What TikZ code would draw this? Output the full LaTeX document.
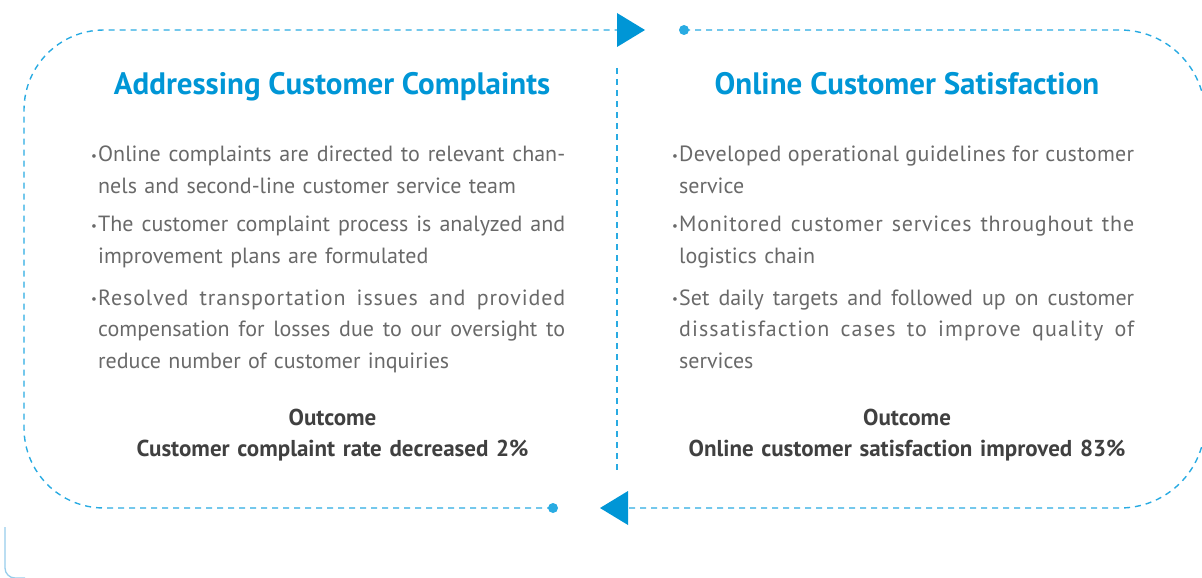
\documentclass[tikz,border=0pt]{standalone}
\usepackage{fontspec}
\setmainfont{PT Sans}
\definecolor{headblue}{RGB}{0,150,214}
\definecolor{loopblue}{RGB}{41,171,226}
\definecolor{bodygray}{RGB}{105,105,105}
\definecolor{outgray}{RGB}{64,64,64}
\definecolor{paleblue}{RGB}{150,205,235}
% justified line of a given width, indented justified line, last (ragged) line
\newcommand{\fullline}[2]{\hbox to #1{\spaceskip=\fontdimen2\font plus 1fil\relax #2}}
\newcommand{\hangline}[2]{\hspace*{7pt}\fullline{\dimexpr#1-7pt\relax}{#2}}
\newcommand{\lastline}[1]{\hspace*{7pt}#1}
% tracked-out text for loosely set lines
\newcommand{\spread}[2]{{\addfontfeature{LetterSpace=#1}#2}}
\newcommand{\bul}{\hbox to 7pt{\raisebox{1.5pt}{\fontsize{13}{13}\selectfont •}\hss}}
\begin{document}
\begin{tikzpicture}[x=1pt,y=-1pt,
  flowline/.style={draw=loopblue,line width=1.4pt,dash pattern=on 6pt off 5pt},
  headtext/.style={anchor=base,inner sep=0pt,text=headblue,font=\fontsize{31}{36}\selectfont\bfseries},
  bullettext/.style={anchor=base west,inner sep=0pt,align=left,text=bodygray,
    font=\fontsize{22}{31.6}\selectfont},
  outcometext/.style={anchor=base,inner sep=0pt,text width=480pt,align=center,text=outgray,
    font=\fontsize{23}{31.7}\selectfont\bfseries},
  tipfill/.style={fill=headblue},
  dotfill/.style={fill=loopblue}]
\useasboundingbox (0,0) rectangle (1202,578);

% loop end points
\coordinate (dotTop) at (684,30);
\coordinate (arrTop) at (617,30);
\coordinate (dotBot) at (553,508);
\coordinate (arrBot) at (628,508);
\coordinate (divTop) at (617,68);
\coordinate (divBot) at (617,472);

% left half of the loop
\draw[flowline,rounded corners=80pt] (dotBot) -- (24,508) -- (24,30) -- (arrTop);
% right half of the loop
\draw[flowline,rounded corners=85pt] (dotTop) -- (1205,30) -- (1205,508) -- (arrBot);
% centre divider
\draw[flowline] (divTop) -- (divBot);

% arrow heads and dots
\fill[tipfill] (arrTop) ++(0,-17) -- ++(28,17) -- ++(-28,17) -- cycle;
\fill[tipfill] (arrBot) ++(0,-17) -- ++(-28,17) -- ++(28,17) -- cycle;
\fill[dotfill] (dotTop) circle (5pt);
\fill[dotfill] (dotBot) circle (5pt);

% corner fragment
\draw[paleblue,line width=1.3pt,rounded corners=10pt] (5,527) -- (5,578) -- (25,578);

% titles
\node[headtext] (titleL) at (332,95) {Addressing Customer Complaints};
\node[headtext] (titleR) at (907,95) {Online Customer Satisfaction};

% left bullets
\node[bullettext,text width=474pt] (l1) at (91,161.7) {%
  \fullline{474pt}{\bul Online complaints are directed to relevant chan-}\\
  \lastline{nels and second-line customer service team}};
\node[bullettext,text width=474pt] (l2) at (91,231.7) {%
  \fullline{474pt}{\bul The customer complaint process is analyzed and}\\
  \lastline{improvement plans are formulated}};
\node[bullettext,text width=474pt] (l3) at (91,305) {%
  \fullline{474pt}{\bul \spread{4}{Resolved transportation issues and provided}}\\
  \hangline{474pt}{compensation for losses due to our oversight to}\\
  \lastline{reduce number of customer inquiries}};

% right bullets
\node[bullettext,text width=462pt] (r1) at (672,161.7) {%
  \fullline{462pt}{\bul \spread{1.5}{Developed operational guidelines for customer}}\\
  \lastline{service}};
\node[bullettext,text width=462pt] (r2) at (672,231.7) {%
  \fullline{462pt}{\bul \spread{3.5}{Monitored customer services throughout the}}\\
  \lastline{logistics chain}};
\node[bullettext,text width=462pt] (r3) at (672,305) {%
  \fullline{462pt}{\bul Set daily targets and followed up on customer}\\
  \hangline{462pt}{\spread{5}{dissatisfaction cases to improve quality of}}\\
  \lastline{services}};

% outcomes
\node[outcometext] (outL) at (332.5,425) {Outcome\\Customer complaint rate decreased 2\%};
\node[outcometext] (outR) at (907,425) {Outcome\\Online customer satisfaction improved 83\%};
\end{tikzpicture}
\end{document}
